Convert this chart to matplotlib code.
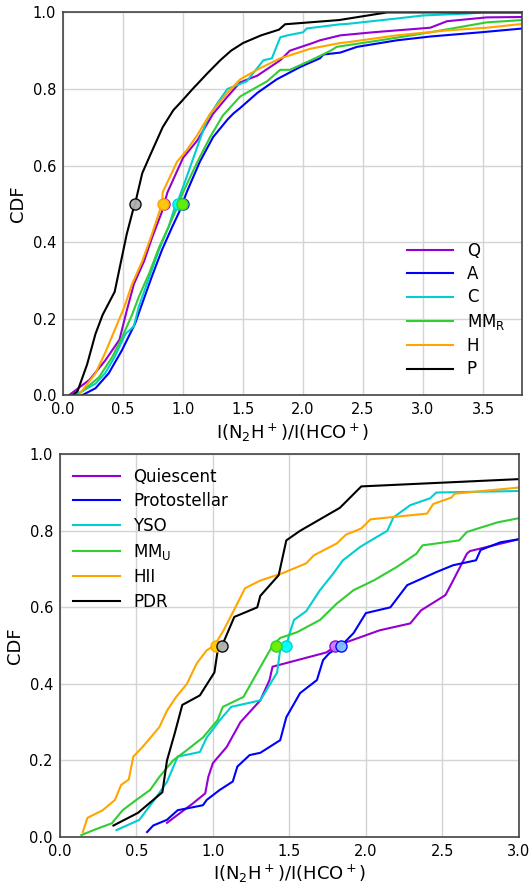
import matplotlib
matplotlib.use("Agg")
import matplotlib.pyplot as plt

# --- upper panel: cumulative distributions per evolutionary class ---
q_x = [0.05, 0.22, 0.35, 0.47, 0.53, 0.59, 0.675, 0.74, 0.825, 0.87, 1.0, 1.12, 1.25, 1.37,
       1.475, 1.62, 1.81, 1.89, 2.08, 2.14, 2.31, 2.58, 3.06, 3.2, 3.53, 3.83]
q_y = [0.0, 0.04, 0.09, 0.145, 0.22, 0.29, 0.35, 0.41, 0.48, 0.53, 0.62, 0.666, 0.735, 0.78,
       0.817, 0.835, 0.875, 0.9, 0.92, 0.927, 0.94, 0.948, 0.96, 0.977, 0.987, 0.988]

a_x = [0.16, 0.27, 0.38, 0.49, 0.6, 0.66, 0.74, 0.825, 0.91, 0.97, 1.03, 1.14, 1.25, 1.37,
       1.42, 1.475, 1.62, 1.78, 1.81, 1.98, 2.14, 2.17, 2.31, 2.45, 2.78, 3.06, 3.48, 3.83]
a_y = [0.0, 0.018, 0.057, 0.117, 0.187, 0.24, 0.31, 0.38, 0.44, 0.48, 0.53, 0.61, 0.674, 0.72,
       0.736, 0.75, 0.79, 0.825, 0.83, 0.858, 0.88, 0.89, 0.895, 0.91, 0.927, 0.937, 0.948, 0.958]

c_x = [0.1, 0.27, 0.35, 0.43, 0.52, 0.59, 0.63, 0.72, 0.8, 0.88, 0.93, 0.96, 1.03, 1.12, 1.2,
       1.28, 1.37, 1.53, 1.67, 1.74, 1.81, 1.87, 2.0, 2.03, 2.31, 2.37, 2.78, 3.0, 3.37, 3.5, 3.83]
c_y = [0.0, 0.03, 0.057, 0.1, 0.16, 0.18, 0.23, 0.31, 0.38, 0.44, 0.49, 0.51, 0.57, 0.65, 0.72,
       0.76, 0.8, 0.82, 0.875, 0.88, 0.935, 0.94, 0.948, 0.958, 0.969, 0.97, 0.984, 0.992, 0.997,
       1.0, 1.0]

mmr_x = [0.12, 0.3, 0.41, 0.49, 0.575, 0.63, 0.72, 0.8, 0.88, 0.95, 1.0, 1.12, 1.225, 1.33,
         1.475, 1.53, 1.7, 1.81, 1.89, 2.08, 2.23, 2.28, 2.64, 3.06, 3.53, 3.83]
mmr_y = [0.0, 0.047, 0.1, 0.15, 0.21, 0.256, 0.32, 0.386, 0.44, 0.49, 0.53, 0.61, 0.674, 0.73,
         0.78, 0.79, 0.82, 0.85, 0.85, 0.877, 0.9, 0.91, 0.927, 0.948, 0.974, 0.98]

h_x = [0.13, 0.27, 0.35, 0.43, 0.51, 0.575, 0.66, 0.74, 0.825, 0.83, 0.95, 1.03, 1.12, 1.225,
       1.37, 1.475, 1.64, 1.81, 2.06, 2.31, 2.37, 2.78, 3.2, 3.53, 3.83]
h_y = [0.0, 0.057, 0.11, 0.17, 0.23, 0.29, 0.35, 0.42, 0.5, 0.53, 0.61, 0.64, 0.68, 0.735,
       0.79, 0.825, 0.854, 0.88, 0.905, 0.92, 0.922, 0.94, 0.953, 0.96, 0.97]

p_x = [0.08, 0.12, 0.2, 0.27, 0.33, 0.43, 0.49, 0.53, 0.58, 0.6, 0.66, 0.73, 0.83, 0.92, 0.98,
       1.08, 1.2, 1.31, 1.4, 1.5, 1.65, 1.8, 1.85, 2.3, 2.7, 3.83]
p_y = [0.0, 0.01, 0.08, 0.16, 0.21, 0.27, 0.36, 0.42, 0.48, 0.5, 0.58, 0.63, 0.70, 0.745, 0.765,
       0.80, 0.84, 0.875, 0.90, 0.92, 0.94, 0.955, 0.969, 0.98, 1.0, 1.0]

top_labels = ["Q", "A", "C", "MM$_{\\rm R}$", "H", "P"]
top_medians = [0.84, 1.0, 0.96, 0.99, 0.83, 0.6]

# --- lower panel: cumulative distributions per source type ---
qui_x = [0.7, 0.87, 0.95, 0.97, 1.0, 1.09, 1.18, 1.31, 1.37, 1.39, 1.74, 1.81, 2.09, 2.29,
         2.36, 2.52, 2.57, 2.66, 2.68, 3.0]
qui_y = [0.037, 0.088, 0.114, 0.157, 0.193, 0.235, 0.30, 0.357, 0.41, 0.445, 0.482, 0.5, 0.54,
         0.558, 0.592, 0.632, 0.67, 0.74, 0.747, 0.778]

pro_x = [0.57, 0.61, 0.70, 0.77, 0.935, 0.96, 1.045, 1.13, 1.16, 1.24, 1.31, 1.44, 1.48, 1.57,
         1.68, 1.72, 1.76, 1.84, 1.92, 2.0, 2.16, 2.27, 2.46, 2.57, 2.72, 2.75, 2.88, 3.0]
pro_y = [0.013, 0.03, 0.045, 0.07, 0.083, 0.097, 0.123, 0.145, 0.184, 0.214, 0.22, 0.253, 0.313,
         0.376, 0.41, 0.462, 0.48, 0.5, 0.533, 0.585, 0.60, 0.658, 0.692, 0.71, 0.723, 0.75,
         0.77, 0.778]

yso_x = [0.37, 0.52, 0.63, 0.70, 0.77, 0.915, 0.96, 1.045, 1.12, 1.31, 1.42, 1.44, 1.48, 1.5,
         1.53, 1.61, 1.70, 1.79, 1.85, 1.96, 2.0, 2.14, 2.18, 2.29, 2.42, 2.46, 3.0]
yso_y = [0.018, 0.045, 0.104, 0.144, 0.21, 0.222, 0.26, 0.305, 0.34, 0.357, 0.43, 0.49, 0.5,
         0.53, 0.567, 0.59, 0.645, 0.69, 0.723, 0.757, 0.767, 0.80, 0.835, 0.867, 0.885, 0.90,
         0.904]

mmu_x = [0.14, 0.22, 0.34, 0.41, 0.50, 0.59, 0.65, 0.74, 0.83, 0.935, 1.03, 1.065, 1.2, 1.31,
         1.39, 1.44, 1.55, 1.70, 1.81, 1.92, 2.05, 2.2, 2.33, 2.37, 2.61, 2.66, 2.86, 3.0]
mmu_y = [0.005, 0.018, 0.036, 0.07, 0.097, 0.123, 0.157, 0.20, 0.227, 0.26, 0.305, 0.34, 0.366,
         0.444, 0.5, 0.52, 0.535, 0.567, 0.61, 0.645, 0.67, 0.705, 0.74, 0.762, 0.775, 0.797,
         0.822, 0.833]

hii_x = [0.15, 0.18, 0.28, 0.36, 0.40, 0.45, 0.48, 0.54, 0.65, 0.70, 0.76, 0.83, 0.895, 0.96,
         1.01, 1.07, 1.16, 1.21, 1.31, 1.46, 1.61, 1.66, 1.81, 1.87, 1.97, 2.03, 2.4, 2.44, 2.56,
         2.58, 3.0]
hii_y = [0.013, 0.05, 0.07, 0.097, 0.136, 0.15, 0.21, 0.235, 0.287, 0.33, 0.366, 0.40, 0.454,
         0.488, 0.5, 0.54, 0.61, 0.65, 0.67, 0.69, 0.715, 0.736, 0.767, 0.79, 0.806, 0.83, 0.845,
         0.87, 0.887, 0.897, 0.913]

pdr_x = [0.35, 0.51, 0.67, 0.70, 0.75, 0.80, 0.915, 1.01, 1.035, 1.06, 1.14, 1.29, 1.31, 1.43,
         1.48, 1.57, 1.83, 1.97, 3.0]
pdr_y = [0.03, 0.063, 0.117, 0.2, 0.27, 0.345, 0.37, 0.43, 0.497, 0.5, 0.575, 0.60, 0.63, 0.684,
         0.775, 0.80, 0.86, 0.916, 0.935]

bottom_labels = ["Quiescent", "Protostellar", "YSO", "MM$_{\\rm U}$", "HII", "PDR"]
bottom_medians = [1.8, 1.84, 1.48, 1.41, 1.02, 1.06]

line_colors = ["darkviolet", "blue", "darkturquoise", "limegreen", "orange", "black"]
dot_colors = ["#c77dff", "#7fbfff", "#00ffff", "#66ee00", "#ffcc00", "#b0b0b0"]


def draw_panel(ax, xs, ys, labels, medians, xmax):
    for x, y, lab, lc in zip(xs, ys, labels, line_colors):
        ax.plot(x, y, color=lc, lw=1.5, label=lab)
    # median of each distribution, marked at CDF = 0.5
    for med, lc, dc in zip(medians, line_colors, dot_colors):
        ax.plot(med, 0.5, "o", ms=8, mfc=dc, mec=lc, mew=1.0, alpha=0.95, zorder=5)
    ax.set_xlim(0, xmax)
    ax.set_ylim(0, 1)
    ax.grid(True, color="#d4d4d4", lw=1.0)
    ax.set_axisbelow(True)
    ax.tick_params(length=0, labelsize=10.5, pad=5)
    for s in ax.spines.values():
        s.set_color("#444444")
        s.set_linewidth(1.2)
    ax.set_ylabel("CDF", fontsize=13)
    ax.set_xlabel("I(N$_2$H$^+$)/I(HCO$^+$)", fontsize=13, labelpad=3)


fig = plt.figure(figsize=(5.30, 8.86), dpi=100)
ax1 = fig.add_axes([0.119, 0.554, 0.866, 0.432])
ax2 = fig.add_axes([0.113, 0.0553, 0.866, 0.432])

draw_panel(ax1, [q_x, a_x, c_x, mmr_x, h_x, p_x], [q_y, a_y, c_y, mmr_y, h_y, p_y],
           top_labels, top_medians, 3.825)
ax1.set_xticks([0.0, 0.5, 1.0, 1.5, 2.0, 2.5, 3.0, 3.5])
ax1.legend(loc="lower right", frameon=False, fontsize=12, handlelength=2.8,
           labelspacing=0.32, borderaxespad=0.6)

draw_panel(ax2, [qui_x, pro_x, yso_x, mmu_x, hii_x, pdr_x],
           [qui_y, pro_y, yso_y, mmu_y, hii_y, pdr_y],
           bottom_labels, bottom_medians, 3.0)
ax2.legend(loc="upper left", frameon=False, fontsize=12, handlelength=2.8,
           labelspacing=0.4, borderaxespad=0.4)

fig.savefig("out.png", dpi=100)
